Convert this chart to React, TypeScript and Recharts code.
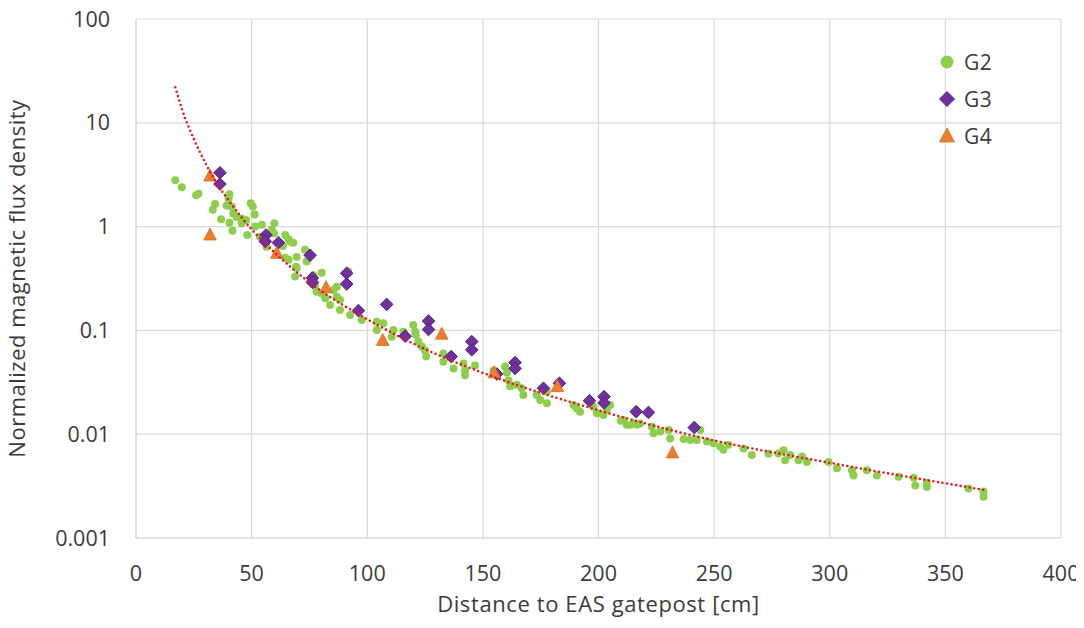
import React from "react";
import { ScatterChart, Scatter, XAxis, YAxis, CartesianGrid } from "recharts";

// [distance cm, normalized flux density]
const g2Points: [number, number][] = [
  [17, 2.8], [19.8, 2.4], [26, 2.0], [27, 2.07], [33.2, 1.45], [34.2, 1.65], [36.8, 1.18],
  [39.2, 1.6], [40, 1.87], [40.4, 2.05], [40.4, 1.09], [41.4, 1.55], [41.7, 0.91], [42.1, 1.34],
  [43.5, 1.24], [45.7, 1.2], [45.7, 1.08], [47.6, 1.16], [48.1, 0.83], [49.6, 1.68], [50.5, 1.56],
  [51.3, 1.31], [51.5, 1.0], [53.6, 0.8], [54.4, 1.04], [56.5, 0.64], [58.7, 0.93], [59.7, 0.86],
  [59.8, 1.08], [63.5, 0.65], [64.5, 0.83], [64.5, 0.5], [65.9, 0.76], [66, 0.48], [66.6, 0.72],
  [68, 0.7], [68.8, 0.33], [69.2, 0.41], [69.5, 0.51], [69.5, 0.4], [73.1, 0.6], [73.8, 0.46],
  [76.7, 0.34], [77.4, 0.27], [78.1, 0.236], [80.3, 0.36], [80.3, 0.227], [81.8, 0.204],
  [83.9, 0.176], [85.4, 0.245], [86.8, 0.264], [86.8, 0.211], [88.2, 0.196], [88.2, 0.157],
  [91.8, 0.37], [92.6, 0.141], [97.6, 0.126], [104.1, 0.121], [104.1, 0.101], [107, 0.117],
  [110.6, 0.087], [111.3, 0.101], [115.6, 0.097], [119.9, 0.113], [120.7, 0.097], [121, 0.091],
  [122.1, 0.078], [123.6, 0.07], [125, 0.064], [125.5, 0.056], [132.9, 0.06], [132.9, 0.05],
  [137.3, 0.043], [141.6, 0.048], [142.3, 0.041], [142.3, 0.037], [146.6, 0.046], [154.6, 0.041],
  [159.6, 0.045], [160.4, 0.039], [161.1, 0.033], [161.8, 0.029], [164.7, 0.03], [166.8, 0.0277],
  [167.5, 0.0239], [173.3, 0.0239], [174.8, 0.0213], [177.7, 0.0199], [177.7, 0.0257],
  [189.2, 0.0191], [190.6, 0.0177], [192, 0.0165], [197.8, 0.0184], [199.3, 0.0159],
  [202.1, 0.0153], [203.6, 0.0171], [205, 0.0191], [209.6, 0.0135], [210.8, 0.0137],
  [212.2, 0.0123], [213.7, 0.0123], [215.1, 0.0127], [216.6, 0.0123], [218, 0.0127],
  [223.1, 0.0118], [223.8, 0.0102], [226.7, 0.0106], [230.3, 0.011], [231, 0.0091], [236.8, 0.009],
  [239.6, 0.0088], [242.5, 0.0088], [244, 0.011], [246.9, 0.0085], [249.7, 0.0082], [252.6, 0.0076],
  [254, 0.0071], [256.2, 0.0079], [262.7, 0.0073], [266.3, 0.0063], [273.5, 0.0065], [277.8, 0.0065],
  [280, 0.007], [280.7, 0.0056], [282.9, 0.0063], [286.5, 0.0056], [288, 0.0061], [290.1, 0.0054],
  [299.5, 0.0054], [303.1, 0.0047], [309.6, 0.0045], [310.3, 0.004], [316, 0.0045], [320.4, 0.004],
  [329.8, 0.0039], [336.3, 0.0038], [337, 0.0032], [342, 0.0034], [342, 0.0031], [360, 0.003],
  [366.5, 0.0028], [366.5, 0.0025],
];

const g3Points: [number, number][] = [
  [36.3, 3.3], [36.3, 2.57], [56.2, 0.83], [55.9, 0.72], [61.6, 0.7], [75.3, 0.53], [76.3, 0.32],
  [76.3, 0.29], [91.1, 0.355], [91.1, 0.28], [96.2, 0.155], [108.4, 0.178], [116.4, 0.088],
  [126.5, 0.123], [126.5, 0.102], [136.3, 0.056], [145.2, 0.078], [145.2, 0.065], [156, 0.038],
  [163.9, 0.049], [163.9, 0.043], [176.2, 0.0277], [183.1, 0.031], [196.1, 0.021], [202.4, 0.023],
  [202.4, 0.02], [216.3, 0.0165], [221.6, 0.0162], [241.4, 0.0116],
];

const g4Points: [number, number][] = [
  [32, 3.07], [32, 0.83], [60.9, 0.553], [82.2, 0.258], [106.7, 0.08], [132.2, 0.092],
  [154.9, 0.039], [182.2, 0.0287], [232, 0.0066],
];

// power trend line
const trendPoints: [number, number][] = [
  [17, 22], [20, 13.3], [25, 7.0], [30, 4.1], [35, 2.6], [40, 1.8], [50, 0.94], [60, 0.56],
  [75, 0.29], [100, 0.128], [125, 0.066], [150, 0.039], [200, 0.017], [250, 0.0087],
  [300, 0.0053], [367, 0.0029],
];

const xTicks = [0, 50, 100, 150, 200, 250, 300, 350, 400];
const yTicks = [0.001, 0.01, 0.1, 1, 10, 100];

const toRows = (pts: [number, number][]) => pts.map(([x, y]) => ({ x, y }));

const GREEN = "#8DCF4C";
const PURPLE = "#7030A0";
const ORANGE = "#ED7D31";
const TEXT = "#3b3b3b";
const GRID = "#d9d9d9";
const FONT = "'Open Sans', 'Noto Sans', sans-serif";

function GreenDot(props: any) {
  const { cx, cy } = props;
  if (cx == null || cy == null) return <g />;
  return <circle cx={cx} cy={cy} r={4} fill={GREEN} />;
}

function Diamond(props: any) {
  const { cx, cy } = props;
  if (cx == null || cy == null) return <g />;
  const s = 6.3;
  return (
    <polygon
      points={`${cx},${cy - s} ${cx + s},${cy} ${cx},${cy + s} ${cx - s},${cy}`}
      fill={PURPLE}
      stroke="#52207a"
      strokeWidth={1}
    />
  );
}

function Triangle(props: any) {
  const { cx, cy } = props;
  if (cx == null || cy == null) return <g />;
  return (
    <polygon
      points={`${cx},${cy - 7} ${cx + 6.3},${cy + 5} ${cx - 6.3},${cy + 5}`}
      fill={ORANGE}
      stroke="#d86a20"
      strokeWidth={0.8}
    />
  );
}

function LegendRow({ label, marker }: { label: string; marker: React.ReactNode }) {
  return (
    <div style={{ display: "flex", alignItems: "center", height: 37 }}>
      <svg width={20} height={20} style={{ marginRight: 7 }}>
        {marker}
      </svg>
      <span style={{ fontSize: 21, color: TEXT, letterSpacing: 0.5 }}>{label}</span>
    </div>
  );
}

export default function App() {
  return (
    <div style={{ position: "relative", width: 1084, height: 628, marginTop: -8, marginLeft: -8, fontFamily: FONT }}>
      <ScatterChart width={1084} height={628} margin={{ top: 19, right: 23, bottom: 0, left: 0 }}>
        <CartesianGrid stroke={GRID} strokeWidth={1.2} />
        <XAxis
          type="number"
          dataKey="x"
          domain={[0, 400]}
          ticks={xTicks}
          allowDataOverflow
          height={90}
          tickLine={false}
          tickSize={0}
          tickMargin={28}
          axisLine={{ stroke: GRID, strokeWidth: 1.2 }}
          tick={{ fill: TEXT, fontSize: 21.5, fontFamily: FONT }}
          label={{
            value: "Distance to EAS gatepost [cm]",
            position: "insideBottom",
            offset: 16,
            fill: TEXT,
            fontSize: 22,
            fontFamily: FONT,
            style: { letterSpacing: 0.6 },
          }}
        />
        <YAxis
          type="number"
          dataKey="y"
          scale="log"
          domain={[0.001, 100]}
          ticks={yTicks}
          allowDataOverflow
          width={136}
          tickLine={false}
          tickSize={0}
          tickMargin={26}
          axisLine={{ stroke: GRID, strokeWidth: 1.2 }}
          tick={{ fill: TEXT, fontSize: 21.5, fontFamily: FONT }}
          tickFormatter={(v: number) => String(v)}
          label={{
            value: "Normalized magnetic flux density",
            angle: -90,
            position: "insideLeft",
            offset: 17,
            fill: TEXT,
            fontSize: 22,
            fontFamily: FONT,
            style: { textAnchor: "middle", letterSpacing: 0.5 },
          }}
        />
        <Scatter name="G2" data={toRows(g2Points)} fill={GREEN} shape={GreenDot} isAnimationActive={false} />
        <Scatter name="G3" data={toRows(g3Points)} fill={PURPLE} shape={Diamond} isAnimationActive={false} />
        <Scatter name="G4" data={toRows(g4Points)} fill={ORANGE} shape={Triangle} isAnimationActive={false} />
        <Scatter
          name="trend"
          data={toRows(trendPoints)}
          fill="none"
          shape={() => <g />}
          line={{ stroke: "#E31A1A", strokeWidth: 2.6, strokeDasharray: "0 4.6", strokeLinecap: "round", fill: "none" }}
          lineType="joint"
          lineJointType="monotoneX"
          legendType="none"
          isAnimationActive={false}
        />
      </ScatterChart>
      <div style={{ position: "absolute", left: 937, top: 43 }}>
        <LegendRow label="G2" marker={<circle cx={10} cy={10} r={6.5} fill={GREEN} />} />
        <LegendRow
          label="G3"
          marker={<polygon points="10,2.5 17.5,10 10,17.5 2.5,10" fill={PURPLE} stroke="#52207a" strokeWidth={1} />}
        />
        <LegendRow
          label="G4"
          marker={<polygon points="10,2 17.5,16 2.5,16" fill={ORANGE} stroke="#d86a20" strokeWidth={0.8} />}
        />
      </div>
    </div>
  );
}
